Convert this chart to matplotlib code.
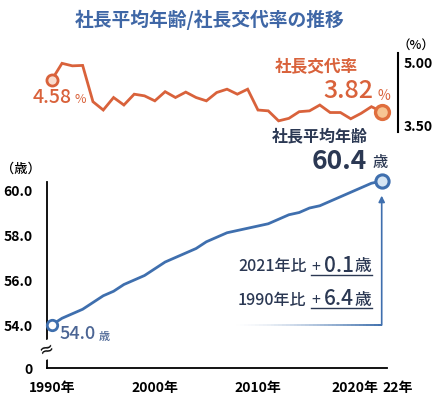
import numpy as np
import matplotlib
matplotlib.use('Agg')
import matplotlib.pyplot as plt
from matplotlib import transforms
from matplotlib.collections import LineCollection
from matplotlib.lines import Line2D

plt.rcParams['font.family'] = ['Noto Sans CJK JP', 'DejaVu Sans']

# data
years = list(range(1990, 2023))
age = [54.0, 54.3, 54.5, 54.7, 55.0, 55.3, 55.5, 55.8, 56.0, 56.2,
       56.5, 56.8, 57.0, 57.2, 57.4, 57.7, 57.9, 58.1, 58.2, 58.3,
       58.4, 58.5, 58.7, 58.9, 59.0, 59.2, 59.3, 59.5, 59.7, 59.9,
       60.1, 60.3, 60.4]
turnover = [4.58, 4.98, 4.92, 4.93, 4.06, 3.86, 4.16, 3.98, 4.24, 4.20,
            4.08, 4.30, 4.16, 4.29, 4.16, 4.08, 4.28, 4.36, 4.24, 4.36,
            3.86, 3.84, 3.60, 3.66, 3.82, 3.84, 3.98, 3.80, 3.80, 3.65,
            3.78, 3.94, 3.82]
xtick_years = [1990, 2000, 2010, 2020, 2022]
xtick_labels = ['1990年', '2000年', '2010年', '2020年', '22年']
age_ticks = [54.0, 56.0, 58.0, 60.0]
rate_ticks = [3.50, 5.00]

BLUE = '#3f6fae'
ORANGE = '#d9623b'
NAVY = '#2b3853'

W, H = 447, 400
fig = plt.figure(figsize=(W / 100, H / 100), dpi=100)


def fx(x):
    return x / W


def fy(y):
    return 1 - y / H


def pt(px):
    return px * 0.72


# ---- bottom chart: average age
ax = fig.add_axes([fx(46.7), fy(368.3), (387.3 - 46.7) / W, (368.3 - 175) / H])
ax.patch.set_alpha(0)
y_bottom = 52.076
ax.set_xlim(1989.515, 2022.543)
ax.set_ylim(y_bottom, y_bottom + (368.3 - 175) / 22.5)
ax.plot(years, age, color=BLUE, lw=2.0, solid_capstyle='round', zorder=3)
ax.plot(years[0], age[0], 'o', ms=7.5, mfc='white', mec=BLUE, mew=2, clip_on=False, zorder=4)
ax.plot(years[-1], age[-1], 'o', ms=9.5, mfc='#d6e5f3', mec=BLUE, mew=2.2, clip_on=False, zorder=4)

for s in ['top', 'right']:
    ax.spines[s].set_visible(False)
ax.spines['left'].set_bounds(y_bottom, 60.34)
ax.spines['left'].set_linewidth(1.3)
ax.spines['bottom'].set_linewidth(1.3)
ax.set_yticks([y_bottom] + age_ticks)
ax.set_yticklabels(['0'] + ['%.1f' % v for v in age_ticks], fontsize=10, fontweight='bold')
ax.tick_params(axis='y', length=0, pad=10)
ax.set_xticks(xtick_years)
ax.set_xticklabels(xtick_labels, fontsize=10, fontweight='bold')
ax.tick_params(axis='x', length=0, pad=9)
xl = ax.get_xticklabels()
xl[3].set_transform(xl[3].get_transform() + transforms.ScaledTranslation(-0.06, 0, fig.dpi_scale_trans))
xl[4].set_transform(xl[4].get_transform() + transforms.ScaledTranslation(0.16, 0, fig.dpi_scale_trans))

# axis break mark
ax.text(0, 52.9, '≈', transform=ax.get_yaxis_transform(), ha='center', va='center',
        fontsize=13, family='DejaVu Sans', rotation=20, clip_on=False,
        bbox=dict(facecolor='white', edgecolor='none', pad=0.2), zorder=5)

# box with arrow
ax.annotate('', xy=(years[-1], age[-1] - 0.65), xytext=(years[-1], age[0]),
            arrowprops=dict(arrowstyle='-|>', color=BLUE, lw=1.2, mutation_scale=9,
                            shrinkA=0, shrinkB=0), zorder=2)
xs = np.linspace(2007.5, years[-1], 40)
segs = [[(xs[i], age[0]), (xs[i + 1], age[0])] for i in range(len(xs) - 1)]
cols = [(0.25, 0.44, 0.68, a) for a in np.linspace(0, 1, len(segs)) ** 1.5]
ax.add_collection(LineCollection(segs, colors=cols, linewidths=1.4))

# value labels
ax.annotate('54.0', xy=(years[0], age[0]), xytext=(pt(7.6), pt(-9)), textcoords='offset points',
            ha='left', va='center', fontsize=13, fontweight='medium', color='#4b6594')
ax.annotate('歳', xy=(years[0], age[0]), xytext=(pt(47.3), pt(-12)), textcoords='offset points',
            ha='left', va='center', fontsize=8, fontweight='medium', color='#4b6594')
ax.annotate('60.4', xy=(years[-1], age[-1]), xytext=(pt(-14.7), pt(19.7)), textcoords='offset points',
            ha='right', va='center', fontsize=19, fontweight='bold', color=NAVY, annotation_clip=False)
ax.annotate('歳', xy=(years[-1], age[-1]), xytext=(pt(-8.7), pt(18.7)), textcoords='offset points',
            ha='left', va='center', fontsize=11, fontweight='medium', color=NAVY, annotation_clip=False)
ax.annotate('社長平均年齢', xy=(years[-1], age[-1]), xytext=(pt(-13.7), pt(44.7)), textcoords='offset points',
            ha='right', va='center', fontsize=11.5, fontweight='bold', color=NAVY, annotation_clip=False)

# ---- top chart: turnover rate
ax2 = fig.add_axes([fx(46.7), fy(131.7), (398 - 46.7) / W, 79 / H])
ax2.patch.set_alpha(0)
ax2.set_xlim(1989.515, 2023.58)
ax2.set_ylim(3.34, 5.235)
ax2.plot(years, turnover, color=ORANGE, lw=2.0, solid_joinstyle='miter', zorder=3)
ax2.plot(years[0], turnover[0], 'o', ms=8, mfc='#f9dccd', mec=ORANGE, mew=2, clip_on=False, zorder=4)
ax2.plot(years[-1], turnover[-1], 'o', ms=10, mfc='#f7c593', mec='#e06f3e', mew=2.4, clip_on=False, zorder=4)
for s in ['top', 'left', 'bottom']:
    ax2.spines[s].set_visible(False)
ax2.spines['right'].set_linewidth(1.5)
ax2.set_xticks([])
ax2.yaxis.tick_right()
ax2.set_yticks(rate_ticks)
ax2.set_yticklabels(['%.2f' % v for v in rate_ticks], fontsize=10, fontweight='bold')
ax2.tick_params(axis='y', length=0, pad=4)

ax2.annotate('4.58', xy=(years[0], turnover[0]), xytext=(pt(20), pt(-17.5)), textcoords='offset points',
             ha='right', va='center', fontsize=14, fontweight='medium', color=ORANGE)
ax2.annotate('%', xy=(years[0], turnover[0]), xytext=(pt(23), pt(-19.5)), textcoords='offset points',
             ha='left', va='center', fontsize=9, color=ORANGE)
ax2.annotate('3.82', xy=(years[-1], turnover[-1]), xytext=(pt(-8.7), pt(20.7)), textcoords='offset points',
             ha='right', va='center', fontsize=18, fontweight='medium', color=ORANGE)
ax2.annotate('%', xy=(years[-1], turnover[-1]), xytext=(pt(-4.7), pt(15.7)), textcoords='offset points',
             ha='left', va='center', fontsize=10, color=ORANGE)
ax2.annotate('社長交代率', xy=(years[-1], turnover[-1]), xytext=(pt(-23.7), pt(44.7)), textcoords='offset points',
             ha='right', va='center', fontsize=12, fontweight='bold', color=ORANGE)

# ---- texts
fig.text(fx(209.5), fy(20), '社長平均年齢/社長交代率の推移', ha='center', va='center',
         fontsize=13.5, fontweight='bold', color='#3f67a6')
fig.text(fx(21), fy(169), '（歳）', ha='center', va='center', fontsize=9.5, fontweight='medium')
fig.text(fx(416), fy(45), '（%）', ha='center', va='center', fontsize=9, fontweight='medium')

for base, label, diff in [(271.5, '2021年比', '0.1'), (305, '1990年比', '6.4')]:
    fig.text(fx(238), fy(base), label, ha='left', va='baseline', fontsize=11.5,
             fontweight='medium', color=NAVY)
    fig.text(fx(311), fy(base), '+', ha='left', va='baseline', fontsize=11.5, color=NAVY)
    fig.text(fx(324), fy(base), diff, ha='left', va='baseline', fontsize=15,
             fontweight='medium', color=NAVY)
    fig.text(fx(354.5), fy(base), '歳', ha='left', va='baseline', fontsize=12,
             fontweight='medium', color=NAVY)
    fig.add_artist(Line2D([fx(311), fx(372)], [fy(base + 3), fy(base + 3)], color=NAVY, lw=1))

fig.savefig('out.png', dpi=100)
